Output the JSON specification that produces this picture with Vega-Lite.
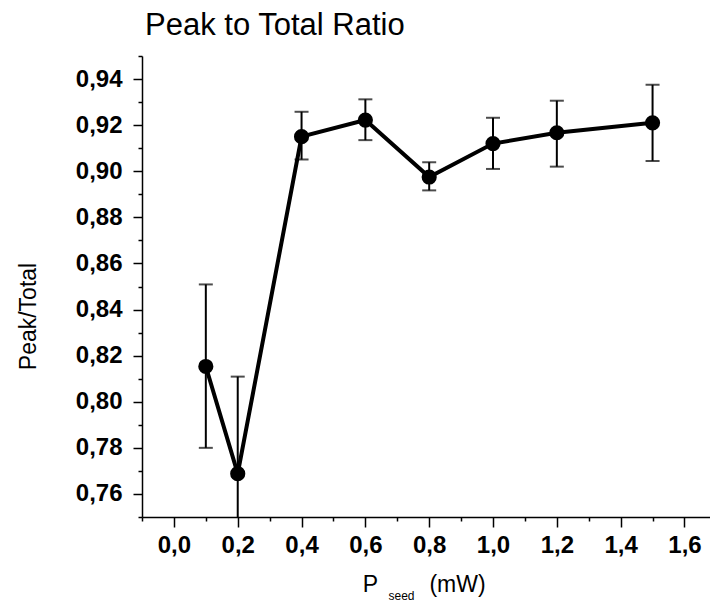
{
  "$schema": "https://vega.github.io/schema/vega-lite/v6.json",
  "width": 568,
  "height": 461,
  "autosize": {"type": "none"},
  "padding": {"left": 142, "top": 56, "right": 0, "bottom": 95},
  "background": "white",
  "title": {
    "text": "Peak to Total Ratio",
    "anchor": "start",
    "frame": "group",
    "font": "Liberation Sans",
    "fontSize": 31,
    "fontWeight": "normal",
    "color": "black",
    "baseline": "alphabetic",
    "offset": 20,
    "dx": 3,
    "dy": 42
  },
  "config": {
    "view": {"stroke": null},
    "font": "Liberation Sans",
    "axis": {
      "grid": false,
      "domainColor": "black",
      "domainWidth": 1.5,
      "tickColor": "black",
      "tickWidth": 1.5,
      "labelFont": "Liberation Sans",
      "labelFontSize": 24,
      "labelFontWeight": "bold",
      "labelColor": "black",
      "titleFont": "Liberation Sans",
      "titleFontWeight": "normal",
      "titleColor": "black",
      "titleFontSize": 23
    }
  },
  "data": {
    "values": [
      {"p": 0.1, "r": 0.8153, "lo": 0.780, "hi": 0.8509},
      {"p": 0.2, "r": 0.7688, "lo": 0.7266, "hi": 0.8109},
      {"p": 0.4, "r": 0.915, "lo": 0.9051, "hi": 0.9258},
      {"p": 0.6, "r": 0.9222, "lo": 0.9135, "hi": 0.9312},
      {"p": 0.8, "r": 0.8975, "lo": 0.8917, "hi": 0.9039},
      {"p": 1.0, "r": 0.912, "lo": 0.901, "hi": 0.9232},
      {"p": 1.2, "r": 0.9167, "lo": 0.902, "hi": 0.9306},
      {"p": 1.5, "r": 0.921, "lo": 0.9045, "hi": 0.9375}
    ]
  },
  "layer": [
    {
      "mark": {"type": "rule", "strokeWidth": 2, "color": "black", "clip": true},
      "encoding": {
        "x": {
          "field": "p", "type": "quantitative",
          "scale": {"domain": [-0.1, 1.68], "nice": false, "zero": false},
          "axis": {
            "orient": "bottom",
            "values": [-0.1, 0, 0.1, 0.2, 0.3, 0.4, 0.5, 0.6, 0.7, 0.8, 0.9, 1.0, 1.1, 1.2, 1.3, 1.4, 1.5, 1.6],
            "labelExpr": "abs(round(datum.value*10))%2==0 ? replace(format(datum.value,'.1f'),'.',',') : ''",
            "tickSize": {"condition": {"test": "abs(round(datum.value*10))%2==0", "value": 10}, "value": 4},
            "labelPadding": 6,
            "labelFlush": false,
            "labelOverlap": false,
            "title": "P",
            "titleAlign": "center",
            "titleBaseline": "alphabetic",
            "titleX": 228,
            "titleY": 74
          }
        },
        "y": {
          "field": "lo", "type": "quantitative",
          "scale": {"domain": [0.75, 0.95], "nice": false, "zero": false},
          "axis": {
            "orient": "left",
            "values": [0.75, 0.76, 0.77, 0.78, 0.79, 0.8, 0.81, 0.82, 0.83, 0.84, 0.85, 0.86, 0.87, 0.88, 0.89, 0.9, 0.91, 0.92, 0.93, 0.94, 0.95],
            "labelExpr": "round(datum.value*100)%2==0 && datum.value < 0.945 ? replace(format(datum.value,'.2f'),'.',',') : ''",
            "tickSize": {"condition": {"test": "round(datum.value*100)%2==0", "value": 9}, "value": 4},
            "labelPadding": 11,
            "labelFlush": false,
            "labelOverlap": false,
            "title": "Peak/Total",
            "titleAlign": "center",
            "titleBaseline": "alphabetic",
            "titleAngle": 270,
            "titleX": -107,
            "titleY": 260
          }
        },
        "y2": {"field": "hi"}
      }
    },
    {
      "mark": {"type": "tick", "orient": "horizontal", "size": 14, "thickness": 2, "color": "black", "clip": true},
      "encoding": {
        "x": {"field": "p", "type": "quantitative", "scale": {"domain": [-0.1, 1.68], "nice": false, "zero": false}, "axis": null},
        "y": {"field": "hi", "type": "quantitative", "scale": {"domain": [0.75, 0.95], "nice": false, "zero": false}, "axis": null}
      }
    },
    {
      "mark": {"type": "tick", "orient": "horizontal", "size": 14, "thickness": 2, "color": "black", "clip": true},
      "encoding": {
        "x": {"field": "p", "type": "quantitative", "scale": {"domain": [-0.1, 1.68], "nice": false, "zero": false}, "axis": null},
        "y": {"field": "lo", "type": "quantitative", "scale": {"domain": [0.75, 0.95], "nice": false, "zero": false}, "axis": null}
      }
    },
    {
      "mark": {"type": "line", "strokeWidth": 4, "color": "black"},
      "encoding": {
        "x": {
          "field": "p", "type": "quantitative",
          "scale": {"domain": [-0.1, 1.68], "nice": false, "zero": false},
          "axis": {
            "orient": "bottom",
            "domain": false, "ticks": false, "labels": false,
            "title": "(mW)",
            "titleAlign": "center",
            "titleBaseline": "alphabetic",
            "titleX": 315,
            "titleY": 74
          }
        },
        "y": {"field": "r", "type": "quantitative", "scale": {"domain": [0.75, 0.95], "nice": false, "zero": false}, "axis": null}
      }
    },
    {
      "mark": {"type": "point", "filled": true, "shape": "circle", "size": 230, "color": "black", "opacity": 1},
      "encoding": {
        "x": {
          "field": "p", "type": "quantitative",
          "scale": {"domain": [-0.1, 1.68], "nice": false, "zero": false},
          "axis": {
            "orient": "bottom",
            "domain": false, "ticks": false, "labels": false,
            "title": "seed",
            "titleFontSize": 12,
            "titleAlign": "center",
            "titleBaseline": "alphabetic",
            "titleX": 259,
            "titleY": 82
          }
        },
        "y": {"field": "r", "type": "quantitative", "scale": {"domain": [0.75, 0.95], "nice": false, "zero": false}, "axis": null}
      }
    }
  ],
  "resolve": {"axis": {"x": "independent", "y": "independent"}}
}
